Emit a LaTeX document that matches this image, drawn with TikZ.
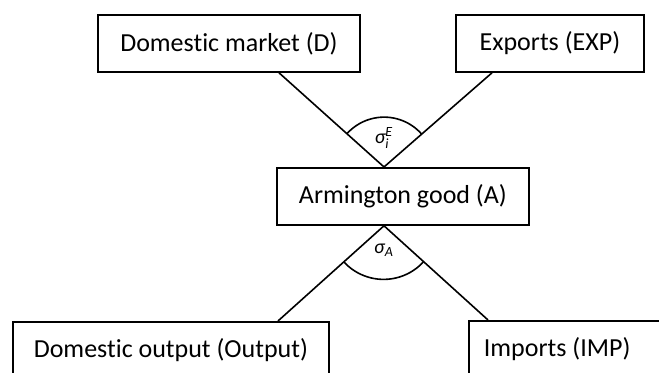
\documentclass[tikz,border=0pt]{standalone}
\usepackage{fontspec}
\setmainfont{Carlito}[Ligatures=NoCommon]
\usetikzlibrary{positioning,calc}

\begin{document}
\begin{tikzpicture}[x=0.5pt, y=0.5pt, line width=0.8pt]
\tikzstyle{box}=[draw=black, line width=0.9pt, anchor=north west, minimum height=28.5pt, inner sep=0pt, font=\fontsize{13}{15}\selectfont]
\tikzstyle{elas}=[inner sep=0pt, font=\fontsize{10}{12}\selectfont\itshape]
\useasboundingbox (0,0) rectangle (659,373);
\clip (0,0) rectangle (659,373);
\node[box, minimum width=131pt]    (D)   at (97,359)  {Domestic market (D)};
\node[box, minimum width=94pt]     (EXP) at (455,359) {Exports (EXP)};
\node[box, minimum width=126pt]    (A)   at (276,206) {Armington good (A)};
\node[box, minimum width=158pt]    (OUT) at (12,52)   {Domestic output (Output)};
\node[box, minimum width=100pt]    (IMP) at (468,53)  {\makebox[85pt][l]{Imports (IMP)}};
% where the lines meet the boxes
\coordinate (d)   at ($(D.south west)+(182,0)$);
\coordinate (e)   at ($(EXP.south west)+(37,0)$);
\coordinate (top) at ($(A.north west)+(108,0)$);
\coordinate (bot) at ($(A.south west)+(108,0)$);
\coordinate (o)   at ($(OUT.north west)+(266,0)$);
\coordinate (i)   at ($(IMP.north west)+(20,0)$);
\draw (d) -- (top) -- (e);
\draw (o) -- (bot) -- (i);
% elasticities
\draw ($(top)!25pt!(e)$) arc[start angle=41.3, end angle=137.9, radius=25pt];
\draw ($(bot)!27pt!(o)$) arc[start angle=222.5, end angle=317.3, radius=27pt];
\node[elas] (sE) at ($(top)+(0,29)$)  {σ$^{\mbox{\scriptsize\itshape E}}_{\mbox{\scriptsize\itshape i}}$};
\node[elas] (sA) at ($(bot)+(0,-24)$) {σ$_{\mbox{\scriptsize\itshape A}}$};
\end{tikzpicture}
\end{document}
